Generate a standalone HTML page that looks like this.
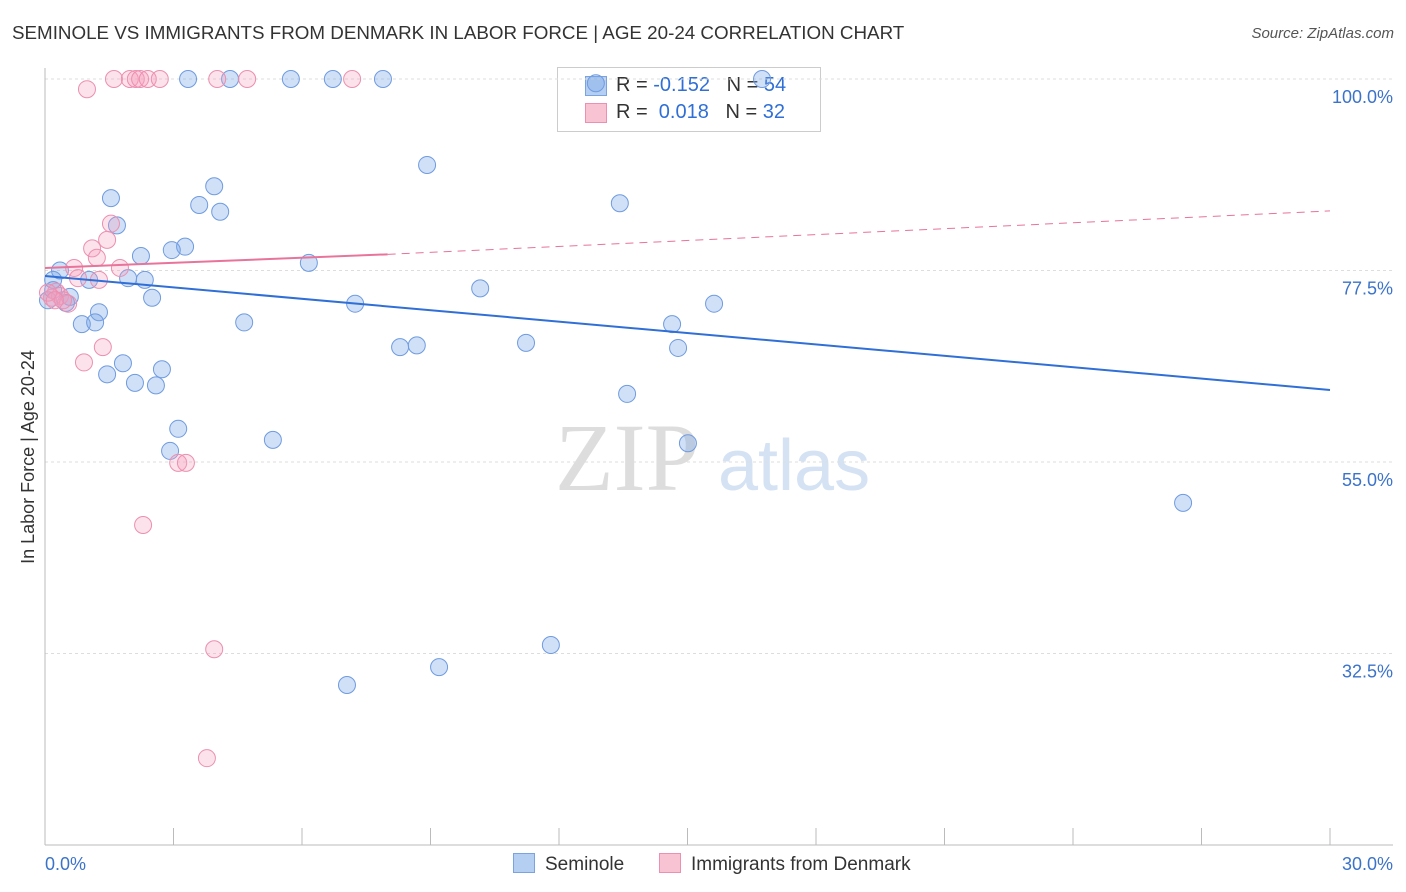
<!DOCTYPE html>
<html><head><meta charset="utf-8">
<style>
body{margin:0;background:#fff;font-family:"Liberation Sans",sans-serif;}
#wrap{position:relative;width:1406px;height:892px;overflow:hidden;}
.t{position:absolute;white-space:nowrap;}
</style></head>
<body>
<div id="wrap">
<div class="t" style="left:12px;top:22px;font-size:18.8px;color:#333;">SEMINOLE VS IMMIGRANTS FROM DENMARK IN LABOR FORCE | AGE 20-24 CORRELATION CHART</div>
<div class="t" style="right:12px;top:25px;font-size:15px;color:#555;font-style:italic;">Source: ZipAtlas.com</div>
<div class="t" style="left:557px;top:67px;width:262px;height:63px;border:1px solid #ccc;background:#fff;font-size:20px;color:#333;">
 <div style="position:absolute;left:27px;top:8px;width:20px;height:18px;background:#b5cff3;border:1px solid #7aa3e0"></div>
 <div style="position:absolute;left:58px;top:6px">R = <span style="color:#2f6fd6">-0.152</span>&nbsp;&nbsp;&nbsp;N = <span style="color:#2f6fd6">54</span></div>
 <div style="position:absolute;left:27px;top:35px;width:20px;height:18px;background:#f8c4d4;border:1px solid #ec8fb0"></div>
 <div style="position:absolute;left:58px;top:33px">R = &nbsp;<span style="color:#2f6fd6">0.018</span>&nbsp;&nbsp;&nbsp;N = <span style="color:#2f6fd6">32</span></div>
</div>
<svg id="svg" width="1406" height="892" style="position:absolute;left:0;top:0"></svg>
</div>
<script>
const yTicks=[100,77.5,55,32.5];
const xTickLabels=["0.0%","30.0%"];
const blueX=[3.34,4.32,5.74,6.72,7.89,12.86,16.74,8.92,3.95,1.54,3.60,4.09,13.42,1.68,3.27,2.96,2.24,6.16,0.35,0.19,1.03,1.94,2.33,10.16,0.58,2.50,7.24,15.62,0.49,1.26,0.86,1.17,4.65,14.64,8.29,8.68,11.23,14.78,1.82,2.73,1.45,2.10,2.59,13.59,3.11,5.32,15.01,2.92,26.57,11.81,9.20,7.05,0.07,0.19];
const blueY=[100,100,100,100,100,99.5,100,89.9,87.4,86.0,85.2,84.4,85.4,82.8,80.3,79.9,79.2,78.4,77.5,76.4,76.4,76.6,76.4,75.4,74.4,74.3,73.6,73.6,73.7,72.6,71.2,71.4,71.4,71.2,68.5,68.7,69.0,68.4,66.6,65.9,65.3,64.3,64.0,63.0,58.9,57.6,57.2,56.3,50.2,33.5,30.9,28.8,74.0,75.2];
const pinkX=[0.98,1.61,1.98,2.12,2.22,2.40,2.68,4.02,4.72,7.17,1.54,1.45,1.10,1.21,1.75,0.68,0.77,1.26,0.26,0.35,0.16,0.54,1.35,0.91,3.11,3.29,2.29,3.95,3.78,0.07,0.42,0.23];
const pinkY=[98.8,100,100,100,100,100,100,100,100,100,83.0,81.1,80.1,79.0,77.8,77.8,76.6,76.4,75.0,74.5,74.3,73.6,68.5,66.7,54.9,54.9,47.6,33.0,20.2,74.9,74.0,74.0];
const blueTrend=[76.85,63.46];
const pinkTrend=[77.8,79.4,84.5];
const NS="http://www.w3.org/2000/svg";
const svg=document.getElementById('svg');
const X=v=>45+v/30*1285;
const Y=v=>79+(100-v)*8.511;
function mk(tag,attrs,parent){const e=document.createElementNS(NS,tag);for(const k in attrs)e.setAttribute(k,attrs[k]);(parent||svg).appendChild(e);return e;}
let w=mk('text',{x:555,y:490,'font-size':96,fill:'#ddd','font-family':'Liberation Serif, serif'});w.textContent='ZIP';


let w2=mk('text',{x:718,y:490,'font-size':72,fill:'#d4e2f4','font-family':'Liberation Sans, sans-serif'});w2.textContent='atlas';


yTicks.forEach(v=>{
 const g=mk('line',{x1:45,x2:1393,y1:Y(v),y2:Y(v),stroke:'#ddd','stroke-dasharray':'3,3'});
 
 
 const t=mk('text',{x:1393,y:Y(v)+24,'text-anchor':'end','font-size':18,fill:'#3b73c9'});t.textContent=v.toFixed(1)+'%';
 
 
});
let ax=mk('line',{x1:45,x2:1393,y1:845,y2:845,stroke:'#bbb'});


let ay=mk('line',{x1:45,x2:45,y1:68,y2:845,stroke:'#bbb'});


for(let i=0;i<=10;i++){const tk=mk('line',{x1:X(i*3),x2:X(i*3),y1:828,y2:845,stroke:'#bbb'});
 
 }
let xl=mk('text',{x:45,y:870,'font-size':18,fill:'#3b73c9'});xl.textContent=xTickLabels[0];


let xr=mk('text',{x:1393,y:870,'font-size':18,fill:'#3b73c9','text-anchor':'end'});xr.textContent=xTickLabels[1];


let yt=mk('text',{x:34,y:457,'font-size':18,fill:'#333','text-anchor':'middle',transform:'rotate(-90 34 457)'});yt.textContent='In Labor Force | Age 20-24';


blueX.forEach((x,i)=>{const c=mk('circle',{cx:X(x),cy:Y(blueY[i]),r:8.5,fill:'rgba(120,165,230,0.35)',stroke:'#6f9be0','stroke-width':1});
 
 });
pinkX.forEach((x,i)=>{const c=mk('circle',{cx:X(x),cy:Y(pinkY[i]),r:8.5,fill:'rgba(245,160,190,0.3)',stroke:'#ec8fb0','stroke-width':1});
 
 });
let bt=mk('line',{x1:X(0),y1:Y(blueTrend[0]),x2:X(30),y2:Y(blueTrend[1]),stroke:'#2f6fd6','stroke-width':2});


let pt=mk('line',{x1:X(0),y1:Y(pinkTrend[0]),x2:X(8),y2:Y(pinkTrend[1]),stroke:'#e8739b','stroke-width':2});


let pd=mk('line',{x1:X(8),y1:Y(pinkTrend[1]),x2:X(30),y2:Y(pinkTrend[2]),stroke:'#e8739b','stroke-width':1,'stroke-dasharray':'8,6'});


</script>
<div class="t" style="left:513px;top:853px;font-size:19px;color:#333;"><span style="display:inline-block;width:20px;height:18px;background:#b5cff3;border:1px solid #7aa3e0;vertical-align:-3px;margin-right:10px"></span>Seminole</div>
<div class="t" style="left:659px;top:853px;font-size:19px;color:#333;"><span style="display:inline-block;width:20px;height:18px;background:#f8c4d4;border:1px solid #ec8fb0;vertical-align:-3px;margin-right:10px"></span>Immigrants from Denmark</div>
</body></html>
